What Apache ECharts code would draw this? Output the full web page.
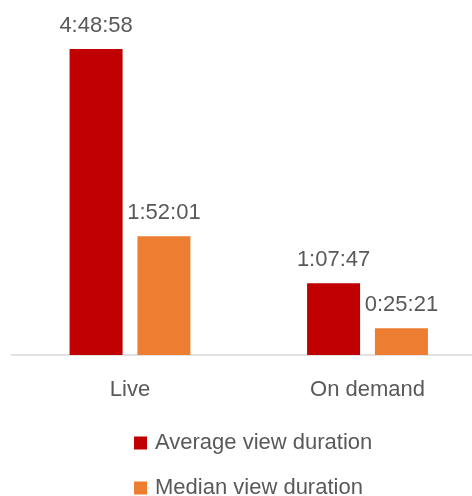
<!DOCTYPE html>
<html>
<head>
<meta charset="utf-8">
<script src="https://cdn.jsdelivr.net/npm/echarts@6/dist/echarts.min.js"></script>
<style>
html,body{margin:0;padding:0;background:#fff;overflow:hidden;width:472px;height:496px;}
#chart{width:487px;height:496px;}
</style>
</head>
<body>
<div id="chart"></div>
<script>
const categories = ['Live', 'On demand'];
const seriesNames = ['Average view duration', 'Median view duration'];
// durations in seconds (4:48:58, 1:07:47) and (1:52:01, 0:25:21)
const averageSeconds = [17338, 4067];
const medianSeconds = [6721, 1521];
const colors = ['#C00000', '#ED7D31'];

function fmt(sec) {
  const h = Math.floor(sec / 3600);
  const m = Math.floor((sec % 3600) / 60);
  const s = sec % 60;
  return h + ':' + String(m).padStart(2, '0') + ':' + String(s).padStart(2, '0');
}

const FONT = '"Liberation Sans", Arial, sans-serif';
const TXT = '#595959';

const chart = echarts.init(document.getElementById('chart'), null, {renderer: 'canvas'});
const labelCfg = {
  show: true,
  position: 'top',
  distance: 12,
  color: TXT,
  fontFamily: FONT,
  fontSize: 22,
  formatter: p => fmt(p.value)
};
const legendBase = {
  orient: 'vertical',
  left: 129,
  icon: 'rect',
  itemWidth: 13,
  itemHeight: 13,
  textStyle: {color: TXT, fontFamily: FONT, fontSize: 22, padding: [0, 0, 0, 3]}
};
chart.setOption({
  animation: false,
  backgroundColor: '#ffffff',
  grid: {left: 11.25, top: 2, width: 475, height: 353, containLabel: false},
  xAxis: {
    type: 'category',
    data: categories,
    axisLine: {show: true, lineStyle: {color: '#d9d9d9', width: 1.5}},
    axisTick: {show: false},
    axisLabel: {color: TXT, fontFamily: FONT, fontSize: 22, margin: 24}
  },
  yAxis: {
    type: 'value',
    min: 0,
    max: 20000,
    show: false,
    splitLine: {show: false}
  },
  legend: [
    Object.assign({}, legendBase, {top: 427, data: [seriesNames[0]]}),
    Object.assign({}, legendBase, {top: 472, data: [seriesNames[1]]})
  ],
  series: [
    {
      name: seriesNames[0],
      type: 'bar',
      data: averageSeconds,
      barWidth: 53,
      barGap: '28%',
      itemStyle: {color: colors[0]},
      label: labelCfg
    },
    {
      name: seriesNames[1],
      type: 'bar',
      data: medianSeconds,
      barWidth: 53,
      barGap: '28%',
      itemStyle: {color: colors[1]},
      label: labelCfg
    }
  ]
});
</script>
</body>
</html>
